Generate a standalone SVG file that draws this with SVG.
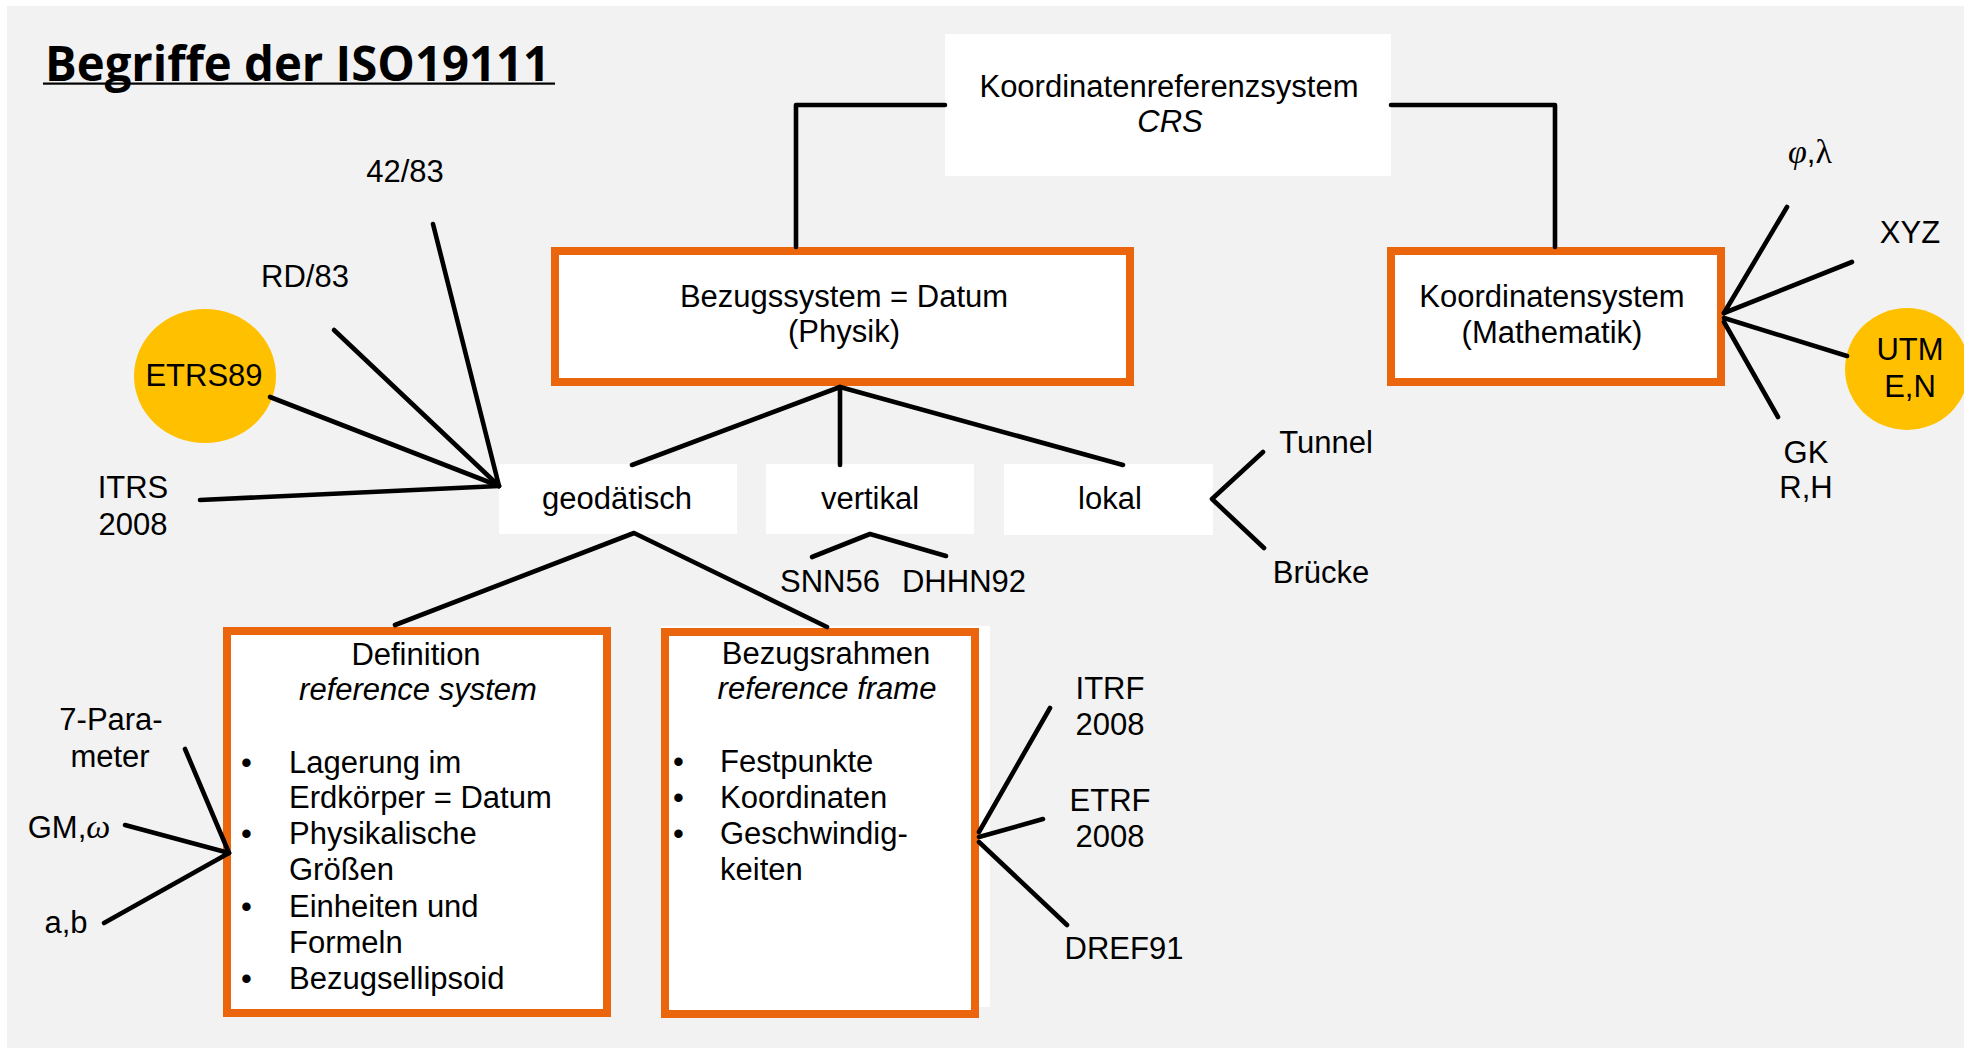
<svg xmlns="http://www.w3.org/2000/svg" width="1964" height="1048" viewBox="0 0 1964 1048">
<style>
  text { font-family: "Liberation Sans", Arial, sans-serif; font-size: 31px; fill: #000; }
  .c { text-anchor: middle; }
  .it { font-style: italic; }
  .title { font-family: "Open Sans", "Liberation Sans", sans-serif; font-weight: bold; font-size: 48px; }
  .ln { stroke: #000; stroke-width: 4.6; stroke-linecap: round; stroke-linejoin: round; fill: none; }
  .obox { fill: #fff; stroke: #EB650C; stroke-width: 8; }
  .wbox { fill: #fff; }
  .yel { fill: #FFC000; }
  .sym { font-family: "Liberation Serif", serif; font-size: 34px; }
</style>
<rect x="0" y="0" width="1964" height="1048" fill="#ffffff"/>
<rect x="7" y="6" width="1957" height="1042" fill="#f2f2f2"/>

<g id="title">
  <text class="title" x="45" y="81" textLength="505" lengthAdjust="spacingAndGlyphs">Begriffe der ISO19111</text>
  <rect x="43" y="82.5" width="512" height="2.2" fill="#000"/>
</g>

<g id="crs">
  <rect class="wbox" x="945" y="34" width="446" height="142"/>
  <text class="c" x="1169" y="97">Koordinatenreferenzsystem</text>
  <text class="c it" x="1170" y="132">CRS</text>
</g>

<g id="bezugssystem">
  <rect class="obox" x="555" y="251" width="575" height="131"/>
  <text class="c" x="844" y="307">Bezugssystem = Datum</text>
  <text class="c" x="844" y="342">(Physik)</text>
</g>

<g id="koordinatensystem">
  <rect class="obox" x="1391" y="251" width="330" height="131"/>
  <text class="c" x="1552" y="307">Koordinatensystem</text>
  <text class="c" x="1552" y="343">(Mathematik)</text>
</g>

<g id="geodaetisch">
  <rect class="wbox" x="499" y="464" width="238" height="70"/>
  <text class="c" x="617" y="509">geodätisch</text>
</g>
<g id="vertikal">
  <rect class="wbox" x="766" y="464" width="208" height="70"/>
  <text class="c" x="870" y="509">vertikal</text>
</g>
<g id="lokal">
  <rect class="wbox" x="1004" y="464" width="209" height="71"/>
  <text class="c" x="1110" y="509">lokal</text>
</g>

<g id="etrs89">
  <ellipse class="yel" cx="205" cy="376" rx="71" ry="67"/>
  <text class="c" x="204" y="386">ETRS89</text>
</g>
<g id="itrs2008">
  <text class="c" x="133" y="498">ITRS</text>
  <text class="c" x="133" y="535">2008</text>
</g>
<g id="rd83"><text class="c" x="305" y="287">RD/83</text></g>
<g id="n4283"><text class="c" x="405" y="182">42/83</text></g>

<g id="philambda"><text class="c" x="1810" y="163"><tspan class="sym" font-style="italic">φ</tspan>,<tspan class="sym">λ</tspan></text></g>
<g id="xyz"><text class="c" x="1910" y="243">XYZ</text></g>
<g id="utm">
  <ellipse class="yel" cx="1907" cy="369" rx="62" ry="61"/>
  <text class="c" x="1910" y="360">UTM</text>
  <text class="c" x="1910" y="397">E,N</text>
</g>
<g id="gk">
  <text class="c" x="1806" y="463">GK</text>
  <text class="c" x="1806" y="498">R,H</text>
</g>

<g id="snn56"><text class="c" x="830" y="592">SNN56</text></g>
<g id="dhhn92"><text class="c" x="964" y="592">DHHN92</text></g>
<g id="tunnel"><text class="c" x="1326" y="453">Tunnel</text></g>
<g id="bruecke"><text class="c" x="1321" y="583">Brücke</text></g>

<g id="definition">
  <rect class="obox" x="227" y="631" width="380" height="382"/>
  <text class="c" x="416" y="665">Definition</text>
  <text class="c it" x="418" y="700">reference system</text>
  <text x="241" y="773">•</text><text x="289" y="773">Lagerung im</text>
  <text x="289" y="808">Erdkörper = Datum</text>
  <text x="241" y="844">•</text><text x="289" y="844">Physikalische</text>
  <text x="289" y="880">Größen</text>
  <text x="241" y="917">•</text><text x="289" y="917">Einheiten und</text>
  <text x="289" y="953">Formeln</text>
  <text x="241" y="989">•</text><text x="289" y="989">Bezugsellipsoid</text>
</g>

<g id="bezugsrahmen">
  <rect class="wbox" x="661" y="626" width="329" height="381"/>
  <rect class="obox" x="665" y="632" width="310" height="382"/>
  <text class="c" x="826" y="664">Bezugsrahmen</text>
  <text class="c it" x="827" y="699">reference frame</text>
  <text x="673" y="772">•</text><text x="720" y="772">Festpunkte</text>
  <text x="673" y="808">•</text><text x="720" y="808">Koordinaten</text>
  <text x="673" y="844">•</text><text x="720" y="844">Geschwindig-</text>
  <text x="720" y="880">keiten</text>
</g>

<g id="parameter7">
  <text class="c" x="111" y="730">7-Para-</text>
  <text class="c" x="110" y="767">meter</text>
</g>
<g id="gmomega"><text class="c" x="69" y="838">GM,<tspan class="sym" font-style="italic">ω</tspan></text></g>
<g id="ab"><text class="c" x="66" y="933">a,b</text></g>

<g id="itrf2008">
  <text class="c" x="1110" y="699">ITRF</text>
  <text class="c" x="1110" y="735">2008</text>
</g>
<g id="etrf2008">
  <text class="c" x="1110" y="811">ETRF</text>
  <text class="c" x="1110" y="847">2008</text>
</g>
<g id="dref91"><text class="c" x="1124" y="959">DREF91</text></g>

<g id="connectors">
  <polyline class="ln" points="945,105 796,105 796,247"/>
  <polyline class="ln" points="1391,105 1555,105 1555,247"/>
  <line class="ln" x1="840" y1="387" x2="632" y2="465"/>
  <line class="ln" x1="840" y1="387" x2="840" y2="465"/>
  <line class="ln" x1="840" y1="387" x2="1123" y2="465"/>
  <polyline class="ln" points="395,625 634,533 827,627"/>
  <polyline class="ln" points="812,557 870,534 946,556"/>
  <polyline class="ln" points="1263,452 1212,499 1264,548"/>
  <line class="ln" x1="499" y1="486" x2="200" y2="500"/>
  <line class="ln" x1="499" y1="486" x2="270" y2="397"/>
  <line class="ln" x1="499" y1="486" x2="334" y2="330"/>
  <line class="ln" x1="499" y1="486" x2="433" y2="224"/>
  <line class="ln" x1="1724" y1="313" x2="1787" y2="207"/>
  <line class="ln" x1="1724" y1="313" x2="1852" y2="262"/>
  <line class="ln" x1="1724" y1="318" x2="1847" y2="356"/>
  <line class="ln" x1="1724" y1="322" x2="1778" y2="417"/>
  <line class="ln" x1="229" y1="853" x2="185" y2="749"/>
  <line class="ln" x1="229" y1="853" x2="125" y2="825"/>
  <line class="ln" x1="229" y1="853" x2="104" y2="923"/>
  <line class="ln" x1="979" y1="832" x2="1050" y2="708"/>
  <line class="ln" x1="979" y1="837" x2="1043" y2="819"/>
  <line class="ln" x1="979" y1="842" x2="1067" y2="925"/>
</g>
</svg>
